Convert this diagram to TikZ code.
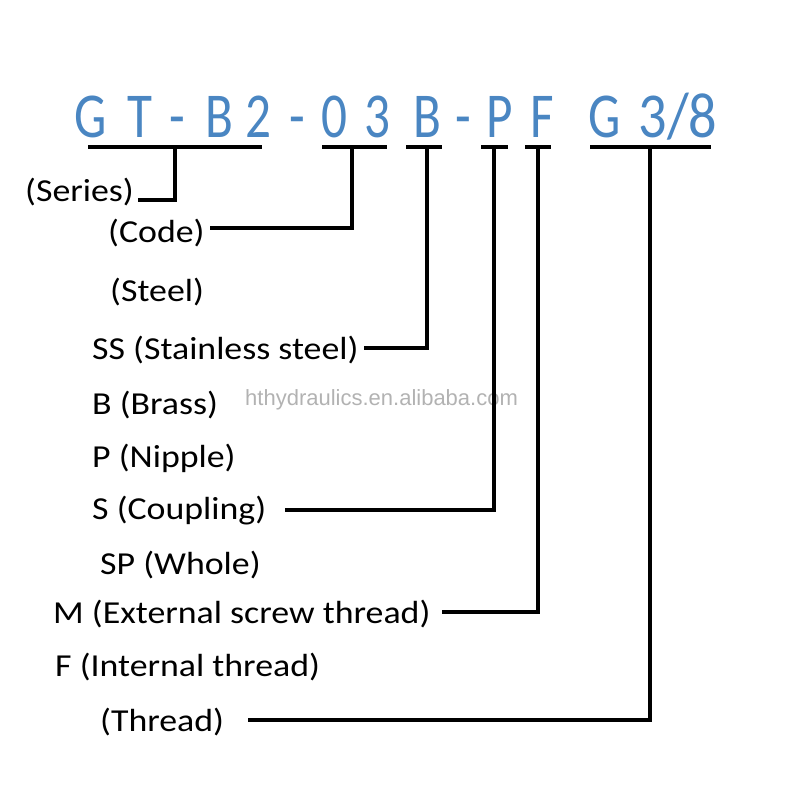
\documentclass[tikz,border=0pt]{standalone}
\usepackage{fontspec}
\setmainfont{Carlito}
\newfontfamily\wmfont{Liberation Sans}
\definecolor{titleblue}{RGB}{74,134,194}
\definecolor{wmgray}{RGB}{178,178,178}
\begin{document}
\begin{tikzpicture}[x=1pt,y=-1pt,
  ttl/.style={anchor=base,inner sep=0pt,text=titleblue,font=\fontsize{64}{64}\selectfont},
  lbl/.style={anchor=west,inner sep=0pt,font=\fontsize{32}{32}\selectfont},
  conn/.style={line width=4pt,line cap=rect,line join=miter},
  uline/.style={line width=4.5pt}]
\useasboundingbox (0,0) rectangle (800,800);
% title letters
\foreach \c/\x/\n in {G/91/t1,T/140/t2,-/177/t3,B/219/t4,2/258/t5,-/297/t6,0/334/t7,3/377/t8,B/427/t9,-/463/t10,P/500/t11,F/542/t12,G/605/t13}
  \node[ttl] (\n) at (\x,137) {\scalebox{0.8}[1]{\c}};
\node[ttl] (t14) at (678,137) {\scalebox{0.88}[1]{3/8}};
% underlines
\coordinate (u1a) at (88,147);  \coordinate (u1b) at (262,147); \coordinate (u1m) at (175,147);
\coordinate (u2a) at (322,147); \coordinate (u2b) at (387,147); \coordinate (u2m) at (352,147);
\coordinate (u3a) at (406,147); \coordinate (u3b) at (442,147); \coordinate (u3m) at (427,147);
\coordinate (u4a) at (481,147); \coordinate (u4b) at (508,147); \coordinate (u4m) at (494,147);
\coordinate (u5a) at (525,147); \coordinate (u5b) at (551,147); \coordinate (u5m) at (538,147);
\coordinate (u6a) at (590,147); \coordinate (u6b) at (711,147); \coordinate (u6m) at (650,147);
\foreach \i in {1,...,6} \draw[uline] (u\i a) -- (u\i b);
% labels
\node[lbl] (series) at (25,192) {\scalebox{1.12}[1]{(Series)}};
\node[lbl] (code) at (108,233) {\scalebox{1.12}[1]{(Code)}};
\node[lbl] (steel) at (110,292) {\scalebox{1.12}[1]{(Steel)}};
\node[lbl] (ss) at (92,350) {\scalebox{1.12}[1]{SS (Stainless steel)}};
\node[lbl] (brass) at (92,405) {\scalebox{1.12}[1]{B (Brass)}};
\node[lbl] (nipple) at (92,458) {\scalebox{1.12}[1]{P (Nipple)}};
\node[lbl] (coupling) at (92,511) {\scalebox{1.12}[1]{S (Coupling)}};
\node[lbl] (whole) at (100,565) {\scalebox{1.12}[1]{SP (Whole)}};
\node[lbl] (ext) at (53,614) {\scalebox{1.12}[1]{M (External screw thread)}};
\node[lbl] (int) at (55,667) {\scalebox{1.12}[1]{F (Internal thread)}};
\node[lbl] (thread) at (100,722) {\scalebox{1.12}[1]{(Thread)}};
\node[anchor=west,inner sep=0pt,text=wmgray,font=\wmfont\fontsize{22}{22}\selectfont] (wm) at (245,400) {hthydraulics.en.alibaba.com};
% connectors
\draw[conn] (140,200) coordinate (s1) -| (u1m);
\draw[conn] ([xshift=7pt]code.east |- 0,228) -| (u2m);
\draw[conn] ([xshift=7pt]ss.east |- 0,348) -| (u3m);
\draw[conn] ([xshift=20pt]coupling.east |- 0,510) -| (u4m);
\draw[conn] ([xshift=13pt]ext.east |- 0,612) -| (u5m);
\draw[conn] ([xshift=26pt]thread.east |- 0,720) -| (u6m);
\end{tikzpicture}
\end{document}
